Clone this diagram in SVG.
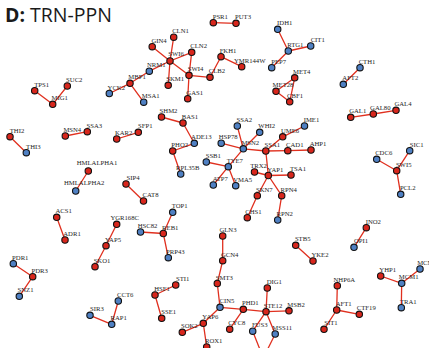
<svg xmlns="http://www.w3.org/2000/svg" width="429" height="348" viewBox="0 0 429 348">
<style>
  .e line { stroke: #e0301f; stroke-width: 1.3; stroke-linecap: round; }
  .r { fill: #d8261c; stroke: #111; stroke-width: 1.1; }
  .b { fill: #4f80c3; stroke: #111; stroke-width: 1.1; }
  text.l { font-family: "Liberation Serif", "Times New Roman", serif; font-size: 6.7px; fill: #1e1e1e; text-anchor: middle; }
  .title { font-family: "Open Sans", "Liberation Sans", sans-serif; font-size: 19.5px; fill: #1a1a1a; }
</style>
<rect width="429" height="348" fill="#ffffff"/>
<text class="title" x="5" y="22"><tspan font-weight="bold">D:</tspan> TRN-PPN</text>

<g id="connectors" class="e">
  <line x1="34.7" y1="90.7" x2="52.7" y2="104.3"/>
  <line x1="67.3" y1="86" x2="52.7" y2="104.3"/>
  <line x1="109.3" y1="93.5" x2="130" y2="83.3"/>
  <line x1="130" y1="83.3" x2="143.7" y2="102.2"/>
  <line x1="130" y1="83.3" x2="149.3" y2="71.2"/>
  <line x1="149.3" y1="71.2" x2="170" y2="61"/>
  <line x1="170" y1="61" x2="152.2" y2="46.7"/>
  <line x1="170" y1="61" x2="173.7" y2="37.2"/>
  <line x1="170" y1="61" x2="191.7" y2="52.3"/>
  <line x1="170" y1="61" x2="168.2" y2="85.3"/>
  <line x1="170" y1="61" x2="189" y2="75.3"/>
  <line x1="191.7" y1="52.3" x2="189" y2="75.3"/>
  <line x1="189" y1="75.3" x2="187.7" y2="98.7"/>
  <line x1="189" y1="75.3" x2="210" y2="77.3"/>
  <line x1="210" y1="77.3" x2="221" y2="56.7"/>
  <line x1="221" y1="56.7" x2="241.7" y2="66.7"/>
  <line x1="213.3" y1="22.7" x2="236" y2="23.3"/>
  <line x1="277.7" y1="29.3" x2="288.3" y2="51"/>
  <line x1="288.3" y1="51" x2="310.7" y2="46"/>
  <line x1="288.3" y1="51" x2="271.7" y2="67.7"/>
  <line x1="294.7" y1="77.8" x2="276" y2="91.3"/>
  <line x1="294.7" y1="77.8" x2="289.7" y2="101.8"/>
  <line x1="276" y1="91.3" x2="289.7" y2="101.8"/>
  <line x1="360" y1="67.7" x2="343.3" y2="84.3"/>
  <line x1="350.7" y1="117.3" x2="373.3" y2="114"/>
  <line x1="373.3" y1="114" x2="396" y2="110.3"/>
  <line x1="10" y1="136.7" x2="26.3" y2="152.7"/>
  <line x1="65.3" y1="136" x2="87.3" y2="131.7"/>
  <line x1="116.7" y1="139" x2="138.3" y2="132.3"/>
  <line x1="161.5" y1="117" x2="183" y2="123"/>
  <line x1="183" y1="123" x2="194.3" y2="143.3"/>
  <line x1="194.3" y1="143.3" x2="172.7" y2="151"/>
  <line x1="172.7" y1="151" x2="180.7" y2="174"/>
  <line x1="243.3" y1="148.8" x2="237.3" y2="126"/>
  <line x1="243.3" y1="148.8" x2="259.7" y2="132.3"/>
  <line x1="243.3" y1="148.8" x2="221.2" y2="143.2"/>
  <line x1="243.3" y1="148.8" x2="228.3" y2="166.7"/>
  <line x1="243.3" y1="148.8" x2="265.8" y2="151"/>
  <line x1="228.3" y1="166.7" x2="206.3" y2="162"/>
  <line x1="228.3" y1="166.7" x2="213.3" y2="185"/>
  <line x1="228.3" y1="166.7" x2="235.7" y2="185.7"/>
  <line x1="265.8" y1="151" x2="282.7" y2="136.8"/>
  <line x1="282.7" y1="136.8" x2="304.5" y2="126"/>
  <line x1="265.8" y1="151" x2="287.8" y2="150.7"/>
  <line x1="287.8" y1="150.7" x2="311" y2="150"/>
  <line x1="265.8" y1="151" x2="268.3" y2="175.5"/>
  <line x1="268.3" y1="175.5" x2="254.5" y2="172"/>
  <line x1="268.3" y1="175.5" x2="291" y2="175"/>
  <line x1="268.3" y1="175.5" x2="257.3" y2="195.7"/>
  <line x1="268.3" y1="175.5" x2="281.7" y2="195.7"/>
  <line x1="257.3" y1="195.7" x2="247.3" y2="217.7"/>
  <line x1="281.7" y1="195.7" x2="277.7" y2="220"/>
  <line x1="376.7" y1="159.3" x2="396.7" y2="170.7"/>
  <line x1="409.7" y1="150.7" x2="396.7" y2="170.7"/>
  <line x1="396.7" y1="170.7" x2="400.7" y2="194.3"/>
  <line x1="88.3" y1="171" x2="75.7" y2="191"/>
  <line x1="126" y1="184" x2="143.5" y2="201"/>
  <line x1="172.7" y1="212.3" x2="163.3" y2="233.5"/>
  <line x1="140.5" y1="232" x2="163.3" y2="233.5"/>
  <line x1="163.3" y1="233.5" x2="168.3" y2="257.7"/>
  <line x1="56.7" y1="217.3" x2="65" y2="240"/>
  <line x1="116.7" y1="224.3" x2="106" y2="245.7"/>
  <line x1="106" y1="245.7" x2="95" y2="266.7"/>
  <line x1="13.3" y1="263.7" x2="32.7" y2="276.7"/>
  <line x1="32.7" y1="276.7" x2="19.3" y2="296.3"/>
  <line x1="118.3" y1="301" x2="111.7" y2="324.3"/>
  <line x1="90" y1="315.3" x2="111.7" y2="324.3"/>
  <line x1="222.7" y1="236" x2="222.7" y2="260.7"/>
  <line x1="222.7" y1="260.7" x2="217.3" y2="283.5"/>
  <line x1="217.3" y1="283.5" x2="220" y2="307.3"/>
  <line x1="155" y1="295" x2="175.7" y2="285"/>
  <line x1="155" y1="295" x2="161.7" y2="318.3"/>
  <line x1="220" y1="307.3" x2="243.3" y2="309.3"/>
  <line x1="220" y1="307.3" x2="203.3" y2="323.3"/>
  <line x1="203.3" y1="323.3" x2="182.3" y2="332.3"/>
  <line x1="203.3" y1="323.3" x2="206.7" y2="347"/>
  <line x1="243.3" y1="309.3" x2="266" y2="311.7"/>
  <line x1="243.3" y1="309.3" x2="229.7" y2="329.2"/>
  <line x1="266" y1="311.7" x2="267.3" y2="288"/>
  <line x1="266" y1="311.7" x2="289" y2="310.8"/>
  <line x1="266" y1="311.7" x2="252.7" y2="331.2"/>
  <line x1="266" y1="311.7" x2="275.2" y2="334"/>
  <line x1="252.7" y1="331.2" x2="263.3" y2="358"/>
  <line x1="275.2" y1="334" x2="263.3" y2="358"/>
  <line x1="366.3" y1="227.7" x2="354" y2="247.3"/>
  <line x1="295.7" y1="245.3" x2="313" y2="261"/>
  <line x1="337.3" y1="285.7" x2="336.7" y2="310"/>
  <line x1="336.7" y1="310" x2="359.3" y2="314.3"/>
  <line x1="336.7" y1="310" x2="324" y2="329.3"/>
  <line x1="380.7" y1="276" x2="401.7" y2="283.3"/>
  <line x1="401.7" y1="283.3" x2="420" y2="269"/>
  <line x1="401.7" y1="283.3" x2="401.3" y2="307.7"/>
</g>

<g id="n-TPS1"><text class="l" x="41.7" y="86.7">TPS1</text><circle class="r" cx="34.7" cy="90.7" r="3.2"/></g>
<g id="n-SUC2"><text class="l" x="74.3" y="82">SUC2</text><circle class="r" cx="67.3" cy="86" r="3.2"/></g>
<g id="n-MIG1"><text class="l" x="59.7" y="100.3">MIG1</text><circle class="r" cx="52.7" cy="104.3" r="3.2"/></g>
<g id="n-YCK2"><text class="l" x="116.3" y="89.5">YCK2</text><circle class="b" cx="109.3" cy="93.5" r="3.2"/></g>
<g id="n-MBP1"><text class="l" x="137" y="79.3">MBP1</text><circle class="r" cx="130" cy="83.3" r="3.2"/></g>
<g id="n-NRM1"><text class="l" x="156.3" y="67.2">NRM1</text><circle class="b" cx="149.3" cy="71.2" r="3.2"/></g>
<g id="n-MSA1"><text class="l" x="150.7" y="98.2">MSA1</text><circle class="b" cx="143.7" cy="102.2" r="3.2"/></g>
<g id="n-SWI6"><text class="l" x="176" y="56.2">SWI6</text><circle class="r" cx="170" cy="61" r="3.2"/></g>
<g id="n-GIN4"><text class="l" x="159" y="42.7">GIN4</text><circle class="r" cx="152.2" cy="46.7" r="3.2"/></g>
<g id="n-CLN1"><text class="l" x="180.5" y="33.2">CLN1</text><circle class="r" cx="173.7" cy="37.2" r="3.2"/></g>
<g id="n-CLN2"><text class="l" x="198.7" y="48.3">CLN2</text><circle class="r" cx="191.7" cy="52.3" r="3.2"/></g>
<g id="n-SKM1"><text class="l" x="175.2" y="81.3">SKM1</text><circle class="r" cx="168.2" cy="85.3" r="3.2"/></g>
<g id="n-SWI4"><text class="l" x="195.5" y="71.3">SWI4</text><circle class="r" cx="189" cy="75.3" r="3.2"/></g>
<g id="n-GAS1"><text class="l" x="194.7" y="94.7">GAS1</text><circle class="r" cx="187.7" cy="98.7" r="3.2"/></g>
<g id="n-CLB2"><text class="l" x="217" y="73.3">CLB2</text><circle class="r" cx="210" cy="77.3" r="3.2"/></g>
<g id="n-FKH1"><text class="l" x="228" y="52.7">FKH1</text><circle class="r" cx="221" cy="56.7" r="3.2"/></g>
<g id="n-YMR144W"><text class="l" x="249.7" y="62.7">YMR144W</text><circle class="r" cx="241.7" cy="66.7" r="3.2"/></g>
<g id="n-PSR1"><text class="l" x="220.3" y="18.7">PSR1</text><circle class="r" cx="213.3" cy="22.7" r="3.2"/></g>
<g id="n-PUT3"><text class="l" x="243" y="19.3">PUT3</text><circle class="r" cx="236" cy="23.3" r="3.2"/></g>
<g id="n-IDH1"><text class="l" x="284.7" y="25.3">IDH1</text><circle class="b" cx="277.7" cy="29.3" r="3.2"/></g>
<g id="n-RTG1"><text class="l" x="295.3" y="47">RTG1</text><circle class="b" cx="288.3" cy="51" r="3.2"/></g>
<g id="n-CIT1"><text class="l" x="317.7" y="42">CIT1</text><circle class="b" cx="310.7" cy="46" r="3.2"/></g>
<g id="n-PEP7"><text class="l" x="278.7" y="63.7">PEP7</text><circle class="b" cx="271.7" cy="67.7" r="3.2"/></g>
<g id="n-MET4"><text class="l" x="301.7" y="73.8">MET4</text><circle class="r" cx="294.7" cy="77.8" r="3.2"/></g>
<g id="n-MET28"><text class="l" x="283" y="87.3">MET28</text><circle class="r" cx="276" cy="91.3" r="3.2"/></g>
<g id="n-CBF1"><text class="l" x="295" y="97.8">CBF1</text><circle class="r" cx="289.7" cy="101.8" r="3.2"/></g>
<g id="n-CTH1"><text class="l" x="367" y="63.7">CTH1</text><circle class="b" cx="360" cy="67.7" r="3.2"/></g>
<g id="n-AFT2"><text class="l" x="350.3" y="80.3">AFT2</text><circle class="b" cx="343.3" cy="84.3" r="3.2"/></g>
<g id="n-GAL1"><text class="l" x="357.7" y="113.3">GAL1</text><circle class="r" cx="350.7" cy="117.3" r="3.2"/></g>
<g id="n-GAL80"><text class="l" x="380.3" y="110">GAL80</text><circle class="r" cx="373.3" cy="114" r="3.2"/></g>
<g id="n-GAL4"><text class="l" x="403" y="106.3">GAL4</text><circle class="r" cx="396" cy="110.3" r="3.2"/></g>
<g id="n-THI2"><text class="l" x="17" y="132.7">THI2</text><circle class="r" cx="10" cy="136.7" r="3.2"/></g>
<g id="n-THI3"><text class="l" x="33.3" y="148.7">THI3</text><circle class="b" cx="26.3" cy="152.7" r="3.2"/></g>
<g id="n-MSN4"><text class="l" x="72.3" y="132">MSN4</text><circle class="r" cx="65.3" cy="136" r="3.2"/></g>
<g id="n-SSA3"><text class="l" x="94.3" y="127.7">SSA3</text><circle class="r" cx="87.3" cy="131.7" r="3.2"/></g>
<g id="n-KAR2"><text class="l" x="123.7" y="135">KAR2</text><circle class="r" cx="116.7" cy="139" r="3.2"/></g>
<g id="n-SFP1"><text class="l" x="145.3" y="128.3">SFP1</text><circle class="r" cx="138.3" cy="132.3" r="3.2"/></g>
<g id="n-SHM2"><text class="l" x="168.5" y="113">SHM2</text><circle class="r" cx="161.5" cy="117" r="3.2"/></g>
<g id="n-BAS1"><text class="l" x="190" y="119">BAS1</text><circle class="r" cx="183" cy="123" r="3.2"/></g>
<g id="n-ADE13"><text class="l" x="201.3" y="139.3">ADE13</text><circle class="b" cx="194.3" cy="143.3" r="3.2"/></g>
<g id="n-PHO2"><text class="l" x="179.7" y="147">PHO2</text><circle class="r" cx="172.7" cy="151" r="3.2"/></g>
<g id="n-RPL35B"><text class="l" x="187.7" y="170">RPL35B</text><circle class="b" cx="180.7" cy="174" r="3.2"/></g>
<g id="n-SSA2"><text class="l" x="244.3" y="122">SSA2</text><circle class="b" cx="237.3" cy="126" r="3.2"/></g>
<g id="n-WHI2"><text class="l" x="266.7" y="128.3">WHI2</text><circle class="b" cx="259.7" cy="132.3" r="3.2"/></g>
<g id="n-HSP78"><text class="l" x="228.2" y="139.2">HSP78</text><circle class="b" cx="221.2" cy="143.2" r="3.2"/></g>
<g id="n-MSN2"><text class="l" x="250.3" y="144.8">MSN2</text><circle class="b" cx="243.3" cy="148.8" r="3.2"/></g>
<g id="n-SSA1"><text class="l" x="272.3" y="147">SSA1</text><circle class="r" cx="265.8" cy="151" r="3.2"/></g>
<g id="n-UME6"><text class="l" x="290" y="132.8">UME6</text><circle class="r" cx="282.7" cy="136.8" r="3.2"/></g>
<g id="n-IME1"><text class="l" x="311.5" y="122">IME1</text><circle class="b" cx="304.5" cy="126" r="3.2"/></g>
<g id="n-CAD1"><text class="l" x="294.8" y="146.7">CAD1</text><circle class="r" cx="287.8" cy="150.7" r="3.2"/></g>
<g id="n-AHP1"><text class="l" x="318" y="146">AHP1</text><circle class="r" cx="311" cy="150" r="3.2"/></g>
<g id="n-SSB1"><text class="l" x="213.3" y="158">SSB1</text><circle class="b" cx="206.3" cy="162" r="3.2"/></g>
<g id="n-TYE7"><text class="l" x="234.8" y="162.7">TYE7</text><circle class="b" cx="228.3" cy="166.7" r="3.2"/></g>
<g id="n-ATP7"><text class="l" x="220.3" y="181">ATP7</text><circle class="b" cx="213.3" cy="185" r="3.2"/></g>
<g id="n-VMA5"><text class="l" x="242.7" y="181.7">VMA5</text><circle class="b" cx="235.7" cy="185.7" r="3.2"/></g>
<g id="n-TRX2"><text class="l" x="258.5" y="168">TRX2</text><circle class="r" cx="254.5" cy="172" r="3.2"/></g>
<g id="n-YAP1"><text class="l" x="275.3" y="171.5">YAP1</text><circle class="r" cx="268.3" cy="175.5" r="3.2"/></g>
<g id="n-TSA1"><text class="l" x="298" y="171">TSA1</text><circle class="r" cx="291" cy="175" r="3.2"/></g>
<g id="n-SKN7"><text class="l" x="264.3" y="191.7">SKN7</text><circle class="r" cx="257.3" cy="195.7" r="3.2"/></g>
<g id="n-RPN4"><text class="l" x="288.7" y="191.7">RPN4</text><circle class="r" cx="281.7" cy="195.7" r="3.2"/></g>
<g id="n-CHS1"><text class="l" x="253.5" y="214">CHS1</text><circle class="r" cx="247.3" cy="217.7" r="3.2"/></g>
<g id="n-RPN2"><text class="l" x="284.7" y="216">RPN2</text><circle class="b" cx="277.7" cy="220" r="3.2"/></g>
<g id="n-CDC6"><text class="l" x="383.7" y="155.3">CDC6</text><circle class="b" cx="376.7" cy="159.3" r="3.2"/></g>
<g id="n-SIC1"><text class="l" x="416.7" y="146.7">SIC1</text><circle class="b" cx="409.7" cy="150.7" r="3.2"/></g>
<g id="n-SWI5"><text class="l" x="403.7" y="166.7">SWI5</text><circle class="r" cx="396.7" cy="170.7" r="3.2"/></g>
<g id="n-PCL2"><text class="l" x="407.7" y="190.3">PCL2</text><circle class="b" cx="400.7" cy="194.3" r="3.2"/></g>
<g id="n-HMLALPHA1"><text class="l" x="97" y="164.5">HMLALPHA1</text><circle class="r" cx="88.3" cy="171" r="3.2"/></g>
<g id="n-HMLALPHA2"><text class="l" x="84.2" y="184.5">HMLALPHA2</text><circle class="b" cx="75.7" cy="191" r="3.2"/></g>
<g id="n-SIP4"><text class="l" x="133" y="180">SIP4</text><circle class="r" cx="126" cy="184" r="3.2"/></g>
<g id="n-CAT8"><text class="l" x="150.5" y="197">CAT8</text><circle class="r" cx="143.5" cy="201" r="3.2"/></g>
<g id="n-TOP1"><text class="l" x="179.7" y="208.3">TOP1</text><circle class="b" cx="172.7" cy="212.3" r="3.2"/></g>
<g id="n-HSC82"><text class="l" x="147.5" y="228">HSC82</text><circle class="b" cx="140.5" cy="232" r="3.2"/></g>
<g id="n-REB1"><text class="l" x="170.3" y="229.5">REB1</text><circle class="r" cx="163.3" cy="233.5" r="3.2"/></g>
<g id="n-PRP43"><text class="l" x="175.3" y="253.7">PRP43</text><circle class="b" cx="168.3" cy="257.7" r="3.2"/></g>
<g id="n-ACS1"><text class="l" x="63.7" y="213.3">ACS1</text><circle class="r" cx="56.7" cy="217.3" r="3.2"/></g>
<g id="n-ADR1"><text class="l" x="72" y="236">ADR1</text><circle class="r" cx="65" cy="240" r="3.2"/></g>
<g id="n-YGR168C"><text class="l" x="124.7" y="220.3">YGR168C</text><circle class="r" cx="116.7" cy="224.3" r="3.2"/></g>
<g id="n-YAP5"><text class="l" x="113" y="241.7">YAP5</text><circle class="r" cx="106" cy="245.7" r="3.2"/></g>
<g id="n-SKO1"><text class="l" x="102" y="262.7">SKO1</text><circle class="r" cx="95" cy="266.7" r="3.2"/></g>
<g id="n-PDR1"><text class="l" x="20.3" y="259.7">PDR1</text><circle class="b" cx="13.3" cy="263.7" r="3.2"/></g>
<g id="n-PDR3"><text class="l" x="39.7" y="272.7">PDR3</text><circle class="r" cx="32.7" cy="276.7" r="3.2"/></g>
<g id="n-SNZ1"><text class="l" x="25.5" y="292.3">SNZ1</text><circle class="b" cx="19.3" cy="296.3" r="3.2"/></g>
<g id="n-CCT6"><text class="l" x="125.3" y="297">CCT6</text><circle class="b" cx="118.3" cy="301" r="3.2"/></g>
<g id="n-SIR3"><text class="l" x="97" y="311.3">SIR3</text><circle class="b" cx="90" cy="315.3" r="3.2"/></g>
<g id="n-RAP1"><text class="l" x="118.7" y="320.3">RAP1</text><circle class="b" cx="111.7" cy="324.3" r="3.2"/></g>
<g id="n-GLN3"><text class="l" x="228" y="232">GLN3</text><circle class="r" cx="222.7" cy="236" r="3.2"/></g>
<g id="n-GCN4"><text class="l" x="229.7" y="256.7">GCN4</text><circle class="r" cx="222.7" cy="260.7" r="3.2"/></g>
<g id="n-SMT3"><text class="l" x="224.3" y="279.5">SMT3</text><circle class="r" cx="217.3" cy="283.5" r="3.2"/></g>
<g id="n-STI1"><text class="l" x="182.7" y="281">STI1</text><circle class="r" cx="175.7" cy="285" r="3.2"/></g>
<g id="n-HSF1"><text class="l" x="162" y="291">HSF1</text><circle class="r" cx="155" cy="295" r="3.2"/></g>
<g id="n-SSE1"><text class="l" x="168.7" y="314.3">SSE1</text><circle class="r" cx="161.7" cy="318.3" r="3.2"/></g>
<g id="n-CIN5"><text class="l" x="227" y="303.3">CIN5</text><circle class="b" cx="220" cy="307.3" r="3.2"/></g>
<g id="n-PHD1"><text class="l" x="250.3" y="305.3">PHD1</text><circle class="r" cx="243.3" cy="309.3" r="3.2"/></g>
<g id="n-DIG1"><text class="l" x="274.3" y="284">DIG1</text><circle class="r" cx="267.3" cy="288" r="3.2"/></g>
<g id="n-STE12"><text class="l" x="273" y="307.7">STE12</text><circle class="r" cx="266" cy="311.7" r="3.2"/></g>
<g id="n-MSB2"><text class="l" x="296" y="306.8">MSB2</text><circle class="r" cx="289" cy="310.8" r="3.2"/></g>
<g id="n-YAP6"><text class="l" x="210.3" y="319.3">YAP6</text><circle class="r" cx="203.3" cy="323.3" r="3.2"/></g>
<g id="n-SOK2"><text class="l" x="189.3" y="328.3">SOK2</text><circle class="r" cx="182.3" cy="332.3" r="3.2"/></g>
<g id="n-CYC8"><text class="l" x="236.7" y="325.2">CYC8</text><circle class="r" cx="229.7" cy="329.2" r="3.2"/></g>
<g id="n-FUS3"><text class="l" x="259.7" y="327.2">FUS3</text><circle class="b" cx="252.7" cy="331.2" r="3.2"/></g>
<g id="n-MSS11"><text class="l" x="282.2" y="330">MSS11</text><circle class="b" cx="275.2" cy="334" r="3.2"/></g>
<g id="n-ROX1"><text class="l" x="213.7" y="343">ROX1</text><circle class="r" cx="206.7" cy="347" r="3.2"/></g>
<g id="n-TEC1"><text class="l" x="268" y="352.5">TEC1</text><circle class="r" cx="263.3" cy="358" r="3.2"/></g>
<g id="n-INO2"><text class="l" x="373.3" y="223.7">INO2</text><circle class="r" cx="366.3" cy="227.7" r="3.2"/></g>
<g id="n-OPI1"><text class="l" x="361" y="243.3">OPI1</text><circle class="b" cx="354" cy="247.3" r="3.2"/></g>
<g id="n-STB5"><text class="l" x="302.7" y="241.3">STB5</text><circle class="r" cx="295.7" cy="245.3" r="3.2"/></g>
<g id="n-YKE2"><text class="l" x="320" y="257">YKE2</text><circle class="r" cx="313" cy="261" r="3.2"/></g>
<g id="n-NHP6A"><text class="l" x="344.3" y="281.7">NHP6A</text><circle class="r" cx="337.3" cy="285.7" r="3.2"/></g>
<g id="n-AFT1"><text class="l" x="343.7" y="306">AFT1</text><circle class="r" cx="336.7" cy="310" r="3.2"/></g>
<g id="n-CTF19"><text class="l" x="366.3" y="310.3">CTF19</text><circle class="r" cx="359.3" cy="314.3" r="3.2"/></g>
<g id="n-SIT1"><text class="l" x="331" y="325.3">SIT1</text><circle class="r" cx="324" cy="329.3" r="3.2"/></g>
<g id="n-YHP1"><text class="l" x="387.7" y="272">YHP1</text><circle class="r" cx="380.7" cy="276" r="3.2"/></g>
<g id="n-MCM1"><text class="l" x="408.7" y="279.3">MCM1</text><circle class="b" cx="401.7" cy="283.3" r="3.2"/></g>
<g id="n-MCM3"><text class="l" x="427" y="265">MCM3</text><circle class="b" cx="420" cy="269" r="3.2"/></g>
<g id="n-TRA1"><text class="l" x="408.3" y="303.7">TRA1</text><circle class="b" cx="401.3" cy="307.7" r="3.2"/></g>
</svg>
